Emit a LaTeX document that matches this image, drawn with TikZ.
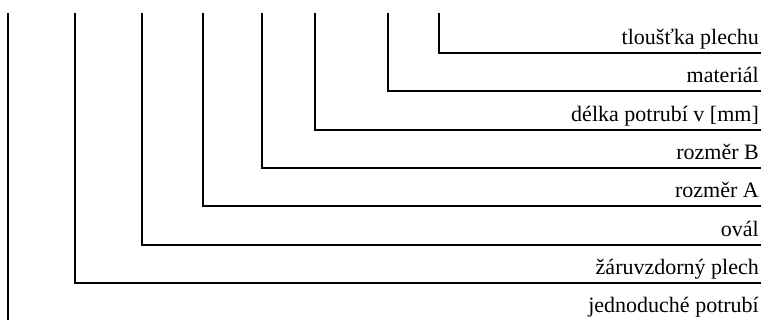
\documentclass[tikz,border=0pt]{standalone}
\usepackage{fontspec}
\setmainfont{Liberation Serif}
\usetikzlibrary{positioning}

\begin{document}
\begin{tikzpicture}[x=1pt, y=-1pt,
    lead/.style={draw, line width=1.1pt},
    lbl/.style={inner sep=0pt, anchor=base east,
        font=\fontsize{22}{26}\selectfont}
]
\useasboundingbox (0,0) rectangle (761,320);

% tops of the leads and their right ends
\coordinate (tlTop) at (439,13);  \coordinate (tlEnd) at (761,53);
\coordinate (maTop) at (388,13);  \coordinate (maEnd) at (761,91);
\coordinate (deTop) at (315,13);  \coordinate (deEnd) at (761,130);
\coordinate (bTop)  at (262,13);  \coordinate (bEnd)  at (761,168);
\coordinate (aTop)  at (203,13);  \coordinate (aEnd)  at (761,206);
\coordinate (ovTop) at (142,13);  \coordinate (ovEnd) at (761,245);
\coordinate (zaTop) at (75,13);   \coordinate (zaEnd) at (761,283);
\coordinate (jeTop) at (8,13);    \coordinate (jeEnd) at (761,321);

\node[lbl] (tloustka) at ([shift={(-2,-8)}]tlEnd) {tloušťka plechu};
\node[lbl] (material) at ([shift={(-2,-8)}]maEnd) {materiál};
\node[lbl] (delka)    at ([shift={(-2,-8)}]deEnd) {délka potrubí v [mm]};
\node[lbl] (rozmerB)  at ([shift={(-2,-8)}]bEnd)  {rozměr B};
\node[lbl] (rozmerA)  at ([shift={(-2,-8)}]aEnd)  {rozměr A};
\node[lbl] (oval)     at ([shift={(-2,-8)}]ovEnd) {ovál};
\node[lbl] (plech)    at ([shift={(-2,-8)}]zaEnd) {žáruvzdorný plech};
\node[lbl] (potrubi)  at ([shift={(-2,-8)}]jeEnd) {jednoduché potrubí};

\draw[lead] (tlTop) |- (tlEnd);
\draw[lead] (maTop) |- (maEnd);
\draw[lead] (deTop) |- (deEnd);
\draw[lead] (bTop)  |- (bEnd);
\draw[lead] (aTop)  |- (aEnd);
\draw[lead] (ovTop) |- (ovEnd);
\draw[lead] (zaTop) |- (zaEnd);
\draw[lead] (jeTop) |- (jeEnd);

\end{tikzpicture}
\end{document}
